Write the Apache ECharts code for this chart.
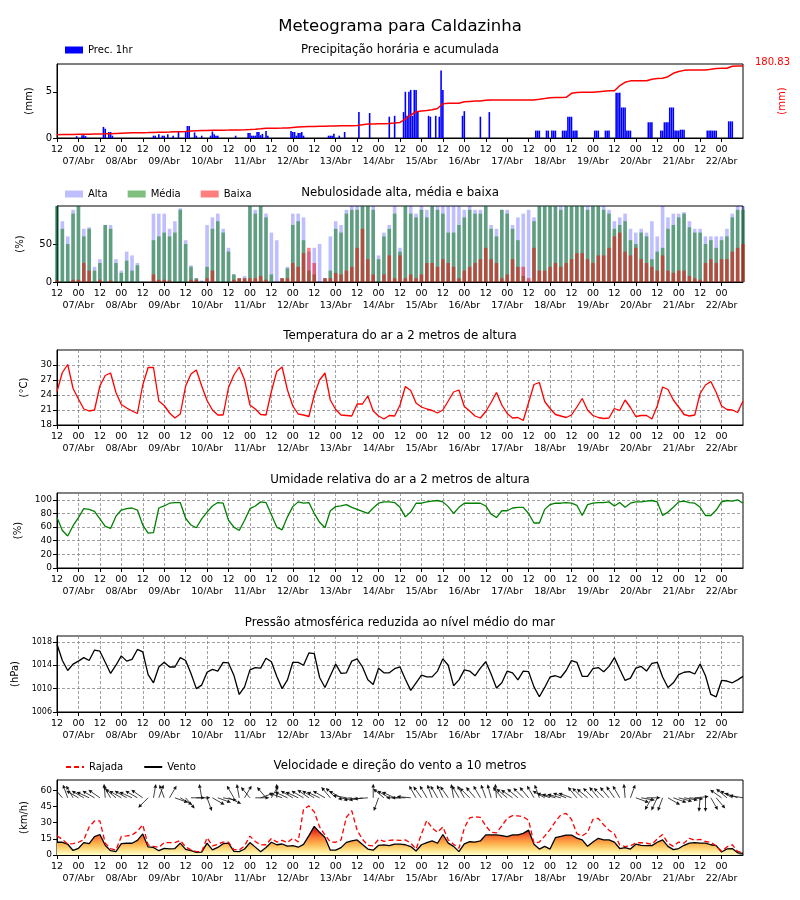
<!DOCTYPE html>
<html>
<head>
<meta charset="utf-8">
<script src="https://cdn.jsdelivr.net/npm/echarts@6/dist/echarts.min.js"></script>
<style>html,body{margin:0;padding:0;background:#fff}#c{width:800px;height:900px}</style>
</head>
<body>
<div id="c"></div>
<script>
// ---------------- DATA ----------------
// hour 0 = 06/Abr 12:00 ; series sampled every 3 hours (h = 0..384)
const STEP = 3;
const START_DAY = 6;
const MONTH = 'Abr';

const temp = [24.7,28.5,30.1,25.3,23.2,21.2,20.8,21.0,
  25.8,27.9,28.4,24.5,22.1,21.4,20.8,20.3,
  26.0,29.5,29.5,22.8,21.9,20.4,19.4,20.2,
  25.8,28.2,29.0,25.8,22.9,21.0,20.0,20.0,
  25.5,28.0,29.6,27.0,22.0,21.2,20.1,20.0,
  24.7,28.7,29.6,25.0,21.8,20.2,20.0,19.7,
  24.0,27.0,28.4,23.0,21.1,20.0,19.9,19.8,
  22.2,22.2,23.8,20.8,19.8,19.2,19.9,19.8,
  22.0,
  25.7,24.9,22.4,21.6,21.2,20.9,20.4,
  21.0,22.8,24.6,25.0,21.7,20.8,19.8,19.4,
  20.7,22.5,24.5,22.0,20.3,19.4,19.5,18.9,
  22.5,26.1,26.5,22.7,21.3,20.1,19.8,19.5,
  20.0,21.6,23.3,21.0,19.9,19.5,19.3,19.4,
  21.3,20.9,23.0,21.5,19.7,19.9,19.9,19.2,
  21.8,25.6,25.1,23.0,21.6,20.1,19.8,20.0,
  24.3,26.0,26.7,24.5,21.8,21.1,21.0,20.5,
  22.8];

const humidity = [74,55,47,62,74,87,86,83,
  72,61,58,76,85,87,88,85,
  63,51,52,88,91,95,96,96,
  73,63,59,72,82,91,96,95,
  70,60,55,70,87,91,97,96,
  78,60,56,75,90,97,95,96,
  80,67,59,84,90,91,93,89,
  86,83,80,88,95,97,97,96,
  89,
  75,82,95,95,97,98,99,
  97,90,80,89,95,95,95,95,
  91,79,74,84,84,88,89,89,
  80,66,66,86,93,95,95,96,
  95,92,77,93,95,96,96,97,
  91,96,89,95,97,97,98,99,
  97,77,82,89,97,98,96,95,
  89,77,77,85,97,99,98,100,
  95];

const pressure = [1017.6,1014.8,1013.1,1014.2,1014.7,1015.3,1014.8,1016.6,
  1016.4,1014.5,1012.6,1014.0,1015.6,1014.7,1015.0,1016.7,
  1016.3,1012.4,1011.0,1013.7,1014.5,1013.7,1013.7,1015.3,
  1014.8,1012.6,1010.0,1010.6,1012.8,1013.3,1013.0,1014.5,
  1014.4,1012.3,1009.0,1010.3,1013.2,1013.6,1013.5,1015.2,
  1014.6,1012.1,1010.0,1011.5,1014.5,1014.5,1014.0,1016.1,
  1016.0,1011.9,1010.2,1012.2,1014.2,1012.6,1012.7,1014.7,
  1015.1,1013.7,1011.5,1010.7,1013.5,1012.7,1012.7,1013.4,
  1013.7,
  1011.6,1009.7,1011.0,1012.3,1012.0,1012.0,1013.0,
  1015.1,1014.0,1010.5,1011.5,1013.2,1013.0,1012.2,1013.5,
  1014.6,1012.5,1010.1,1011.0,1013.0,1012.7,1011.5,1013.0,
  1012.9,1010.3,1008.6,1010.2,1012.0,1012.2,1011.9,1013.1,
  1014.8,1014.5,1012.1,1012.1,1013.4,1013.6,1012.9,1013.8,
  1015.3,1013.3,1011.4,1011.8,1013.5,1013.8,1013.0,1014.3,
  1014.5,1012.0,1010.2,1011.0,1012.4,1012.8,1012.9,1012.5,
  1014.2,1012.2,1009.0,1008.6,1011.4,1011.3,1011.0,1011.5,
  1012.1];

const wind = [11.8,11.8,10,4.2,6.2,11.5,10.5,17,
  19,9,4,3.1,10.5,10.9,10.9,13.5,
  19.5,7.5,7,4,6.2,5.6,6,11,
  5.2,4,2.4,2.6,11,4.8,7,10.5,
  11,3.3,3.1,5.6,11.5,7.3,3.1,7,
  11.8,9.5,10.2,8.2,8.7,7.2,9.8,18,
  26.5,21,16.3,4.5,4.6,6.8,11.7,13,
  14,9.8,5.5,4.5,9,9.3,8.7,10,
  10,
  9.5,7.8,3.7,9.5,11.5,13,10.9,
  19,11,8,3.1,10.3,12.3,12,13,
  18.6,18.6,18.6,18,17,18.6,18.6,20,
  23,10,5.5,8,5.5,16,17.2,18.5,
  18.5,15.6,14,8,12,15.5,14,14,
  12,6,6.8,5.5,10,9,8.7,8.7,
  11.8,14,8,5,6,9,11,11.5,
  11,11,9.5,8.7,2.8,5.6,6,2.1,
  1.6];

const gust = [17.7,14.5,10,10.5,11.8,14,26,31.5,
  31.7,11,6,4.5,17.2,17.7,18.4,22,
  28,9.3,8,7,11.5,11.5,11.5,13.5,
  7.5,4.8,3.1,3.1,16,8.5,9.9,12,
  12,5,4.7,8.5,17.5,12.5,9.4,9.5,
  15.3,12,13.5,11.5,15.5,12.2,42.5,45.5,
  40,26,18.6,12,11.8,14,35,41,
  23,14.5,9,8.5,14.5,12.6,13.5,14,
  13.5,
  14,10.9,5.5,19.5,32,25,21,
  26,14,10,6.2,25,34.5,35.5,34.8,
  27,21,20.5,27,34,36.5,36.2,35.5,
  32,10.9,12,17.5,23.5,31,37.2,38.5,
  33,19.8,17.7,21,33,34,28,23,
  19.5,9.3,7.8,8.5,11.2,11.5,10.9,10,
  14.9,19,11,8,12,11,15.5,13.8,
  14.5,12.5,11.8,8.5,3.5,7.5,9.5,3.3,
  2.2];

// wind direction (meteorological degrees, "from")
const windDir = [140,140,160,150,120,120,115,120,
  125,175,150,130,120,120,115,120,
  125,45,190,200,160,210,290,300,
  320,270,270,170,340,300,290,280,
  295,150,170,210,140,270,250,140,
  210,180,110,115,120,115,120,125,
  120,115,120,140,135,120,100,85,
  80,80,85,180,20,130,120,115,
  90,
  90,95,150,145,150,160,150,
  155,145,170,150,150,135,140,150,
  160,165,175,140,130,125,130,135,
  140,150,160,120,110,105,105,110,
  110,140,135,130,135,140,135,140,
  145,150,175,200,290,280,270,30,
  25,20,300,290,285,280,275,265,
  5,0,330,320,125,130,120,110,
  100];

const cloudHigh = [100,80,60,95,100,70,72,20,
  30,75,75,30,15,40,35,25,
  0,0,90,90,90,70,80,97,
  55,22,5,2,75,85,90,70,
  45,10,5,8,100,95,100,90,
  65,55,5,20,90,90,85,40,
  45,50,5,60,80,75,95,100,
  100,100,100,100,35,65,75,100,
  45,
  100,100,90,100,95,100,100,
  100,100,100,100,95,100,95,95,
  100,75,70,95,95,75,85,90,
  95,85,100,100,100,100,100,100,
  100,100,100,100,100,100,100,95,
  80,85,90,70,65,70,65,80,
  60,100,85,90,90,92,80,70,
  70,60,60,60,60,70,90,100,
  100];

const cloudMid = [100,70,50,90,100,60,70,15,
  25,75,70,25,12,28,15,22,
  0,0,55,60,65,60,65,95,
  50,20,5,1,20,70,80,65,
  40,10,5,5,100,90,100,85,
  10,0,5,18,75,80,55,15,
  10,0,5,15,70,65,90,95,
  95,100,100,95,30,60,70,90,
  40,
  100,90,85,95,85,100,95,
  90,65,65,75,85,95,90,90,
  100,70,60,95,90,70,55,8,
  0,80,100,100,100,100,95,100,
  100,100,100,95,100,100,95,90,
  70,75,80,55,50,65,60,30,
  40,45,70,75,85,90,72,65,
  65,50,55,45,55,60,85,95,
  95];

const cloudLow = [2,0,0,3,3,25,15,0,
  3,0,2,0,0,0,0,0,
  0,0,10,3,3,2,0,0,
  0,3,3,0,5,15,0,0,
  0,3,5,5,5,5,8,3,
  0,0,5,5,25,20,38,45,
  25,0,5,5,12,10,15,20,
  45,70,30,10,0,10,35,5,
  35,
  5,10,5,10,25,25,20,
  30,25,20,5,15,20,25,30,
  45,30,25,5,10,30,20,20,
  5,45,15,15,20,25,20,25,
  30,38,38,30,25,35,35,45,
  60,65,40,35,45,30,25,20,
  15,35,15,12,15,15,8,5,
  3,25,30,25,30,30,40,45,
  50];

// hourly precipitation [hour, mm] (hours without rain omitted)
const precipHourly = [[11,0.2],[14,0.3],[15,0.3],[16,0.2],[26,1.2],[27,1.0],[29,0.65],[30,0.65],[31,0.25],
  [54,0.25],[55,0.25],[57,0.4],[59,0.25],[60,0.25],[62,0.4],[65,0.25],[68,0.7],[72,0.7],[73,1.3],[74,1.3],
  [77,0.6],[78,0.25],[81,0.25],[86,0.25],[87,0.7],[88,0.4],[89,0.25],[90,0.25],[100,0.25],
  [107,0.55],[108,0.55],[109,0.25],[110,0.25],[111,0.25],[112,0.65],[113,0.65],[114,0.3],[115,0.45],
  [117,0.75],[118,0.25],[131,0.75],[132,0.65],[133,0.65],[134,0.25],[135,0.55],[136,0.55],[137,0.65],
  [138,0.25],[152,0.25],[153,0.25],[154,0.25],[155,0.45],[158,0.25],[161,0.65],[169,2.8],[175,2.7],
  [186,2.3],[189,2.4],
  [194,2.8],[195,5.0],[196,2.4],[197,5.0],[198,5.2],[199,2.4],[200,5.2],[201,5.2],[202,2.8],
  [208,2.4],[209,2.3],[212,2.4],[214,2.3],[215,7.3],[216,5.2],[227,2.4],[228,2.9],[237,2.3],[242,2.8],
  [268,0.8],[269,0.8],[270,0.8],[274,0.8],[275,0.8],[277,0.8],[278,0.8],[279,0.8],
  [283,0.8],[284,0.8],[285,0.8],[286,2.3],[287,2.3],[288,2.3],[289,0.8],[290,0.8],[291,0.8],
  [301,0.8],[302,0.8],[303,0.8],[307,0.8],[308,0.8],[309,0.8],
  [313,4.9],[314,4.9],[315,4.9],[316,3.3],[317,3.3],[318,3.3],[319,0.8],[320,0.8],[321,0.8],
  [331,1.7],[332,1.7],[333,1.7],[338,0.8],[339,0.8],[340,1.7],[341,1.7],[342,1.7],
  [343,3.3],[344,3.3],[345,3.3],[346,0.8],[347,0.8],[348,0.8],[349,0.9],[350,0.9],[351,0.9],
  [364,0.8],[365,0.8],[366,0.8],[367,0.8],[368,0.8],[369,0.8],[376,1.8],[377,1.8],[378,1.8]];

// accumulated precipitation (mm), every 3 hours
const precipAccum = [8.3,8.5,8.7,9.0,9.2,9.4,9.6,9.9,
  10.1,10.4,10.9,11.5,12.0,12.5,12.9,13.2,
  13.4,13.6,13.9,14.3,14.7,15.0,15.4,15.8,
  16.5,17.4,18.0,18.6,19.1,19.4,19.5,19.6,
  19.8,20.1,20.4,20.8,21.5,22.3,23.3,24.4,
  24.6,24.8,24.9,25.1,26.5,27.6,28.4,28.8,
  29.2,29.5,29.8,30.1,30.4,30.6,30.8,30.9,
  31.5,33.5,35.0,35.4,35.6,35.8,36.5,37.5,
  39.0,
  47.5,57.8,66.0,67.9,69.0,71.0,74.0,
  86.0,87.2,87.2,87.2,91.2,92.0,92.8,93.3,
  94.8,95.5,95.5,95.5,95.5,95.5,95.5,95.5,
  95.5,95.8,97.3,99.0,101.0,101.6,102.0,102.3,
  112.4,114.5,114.9,114.9,114.9,116.4,117.8,118.9,
  118.9,131.5,140.0,143.6,144.0,144.0,144.0,147.8,
  149.5,150.3,154.0,162.6,167.0,170.0,171.0,171.0,
  171.0,171.0,172.7,174.6,175.2,175.2,180.5,180.83,
  180.83];

// ---------------- CHART ----------------
const FONT = 'DejaVu Sans';
const pair = arr => arr.map((v, i) => [i * STEP, v]);
const HMAX = (temp.length - 1) * STEP;

function hourLabel(v) { return v % 24 === 0 ? '12' : '00'; }
function dateLabel(v) {
  if (v % 24 === 0) return '';
  const d = START_DAY + (v + 12) / 24;
  return String(d).padStart(2, '0') + '/' + MONTH;
}

const GRID_LEFT = 57, GRID_W = 686;
const gridBoxes = [[64, 74], [206, 76], [350, 75], [493, 75], [636, 76], [780, 75]];
const dashedGrid = [false, false, true, true, true, false];

const grids = gridBoxes.map(([t, h]) => ({
  left: GRID_LEFT, top: t, width: GRID_W, height: h,
  show: true, borderColor: '#000', borderWidth: 1, backgroundColor: 'transparent',
  outerBoundsMode: 'none', containLabel: false
}));

const xAxes = [];
gridBoxes.forEach((g, i) => {
  xAxes.push({
    type: 'value', gridIndex: i, min: 0, max: HMAX, interval: 12,
    axisLine: { show: true, lineStyle: { color: '#000', width: 1 } },
    axisTick: { show: true, length: 4, lineStyle: { color: '#000' } },
    axisLabel: { formatter: hourLabel, fontSize: 9.5, color: '#000', lineHeight: 12, margin: 6,
                 showMaxLabel: false, showMinLabel: true, hideOverlap: false, fontFamily: FONT },
    splitLine: { show: dashedGrid[i], lineStyle: { type: [3, 2], color: '#888', width: 0.8 } }
  });
});
// second label row (dates) on companion axes
gridBoxes.forEach((g, i) => {
  xAxes.push({
    type: 'value', gridIndex: i, min: 0, max: HMAX, interval: 12, position: 'bottom', offset: 0,
    axisLine: { show: false }, axisTick: { show: false }, splitLine: { show: false },
    axisLabel: { formatter: dateLabel, fontSize: 9.5, color: '#000', lineHeight: 12, margin: 18,
                 showMaxLabel: false, showMinLabel: false, hideOverlap: false, fontFamily: FONT }
  });
});

function yAx(gi, min, max, interval, name, gap, fs) {
  return {
    type: 'value', gridIndex: gi, min, max, interval,
    name, nameLocation: 'middle', nameGap: gap, nameRotate: 90,
    nameTextStyle: { fontSize: 10, color: '#000', fontFamily: FONT },
    axisLine: { show: true, lineStyle: { color: '#000' } },
    axisTick: { show: true, length: 4, lineStyle: { color: '#000' } },
    axisLabel: { fontSize: fs, color: '#000', showMaxLabel: false, margin: 5, fontFamily: FONT,
                 hideOverlap: false, formatter: v => String(v) },
    splitLine: { show: dashedGrid[gi], lineStyle: { type: [3, 2], color: '#888', width: 0.8 } }
  };
}

const ACC_MAX = 186;
const yAxes = [
  yAx(0, 0, 8, 5, '(mm)', 20, 10),
  { type: 'value', gridIndex: 0, position: 'right', min: 0, max: ACC_MAX,
    name: '(mm)', nameLocation: 'middle', nameGap: 34, nameRotate: 90,
    nameTextStyle: { fontSize: 10, color: '#ff0000', fontFamily: FONT },
    axisLine: { show: false }, axisTick: { show: false }, axisLabel: { show: false }, splitLine: { show: false } },
  yAx(1, 0, 100, 50, '(%)', 32, 10),
  yAx(2, 18, 33, 3, '(°C)', 27, 9),
  yAx(3, 0, 110, 20, '(%)', 34, 9),
  yAx(4, 1006, 1019, 4, '(hPa)', 37, 8),
  yAx(5, 0, 69.5, 15, '(km/h)', 27, 9)
];

// wind fill coloured by value (yellow -> red), global gradient in pixel space
const WG = gridBoxes[5];
const WIND_COLOR_TOP = 27;
const yTopPix = WG[0] + WG[1] * (1 - WIND_COLOR_TOP / 69.5);
const yBotPix = WG[0] + WG[1];
const windGrad = new echarts.graphic.LinearGradient(0, yTopPix, 0, yBotPix, [
  { offset: 0, color: '#c4122a' },
  { offset: 0.2, color: '#e8381f' },
  { offset: 0.4, color: '#fb7a36' },
  { offset: 0.6, color: '#fdb04c' },
  { offset: 0.8, color: '#fedc80' },
  { offset: 1, color: '#ffffcc' }
], true);

const ARROW_BASE = 53;
function renderArrow(params, api) {
  const h = api.value(0), d = api.value(1);
  const p = api.coord([h, ARROW_BASE]);
  const a = (d + 180) * Math.PI / 180;
  const L = 14, hl = 3.8, hw = 1.8;
  const ux = Math.sin(a), uy = -Math.cos(a);
  const tx = p[0] + ux * L, ty = p[1] + uy * L;
  const bx = tx - ux * hl, by = ty - uy * hl;
  return { type: 'group', children: [
    { type: 'line', shape: { x1: p[0], y1: p[1], x2: bx, y2: by }, style: { stroke: '#111', lineWidth: 0.8 } },
    { type: 'polygon', shape: { points: [[tx, ty], [bx - uy * hw, by + ux * hw], [bx + uy * hw, by - ux * hw]] },
      style: { fill: '#111' } }
  ] };
}

const titleBase = { left: 'center', padding: 0, textStyle: { fontSize: 11.8, fontWeight: 'normal', color: '#000', fontFamily: FONT } };
const subTitles = [
  ['Precipitação horária e acumulada', 44],
  ['Nebulosidade alta, média e baixa', 187],
  ['Temperatura do ar a 2 metros de altura', 330],
  ['Umidade relativa do ar a 2 metros de altura', 474],
  ['Pressão atmosférica reduzida ao nível médio do mar', 617],
  ['Velocidade e direção do vento a 10 metros', 760]
];

const legendBase = { orient: 'horizontal', padding: 0, itemWidth: 18, itemHeight: 7, itemGap: 20,
  textStyle: { fontSize: 10, color: '#000', fontFamily: FONT } };

const option = {
  animation: false,
  backgroundColor: '#fff',
  textStyle: { fontFamily: FONT },
  title: [{ text: 'Meteograma para Caldazinha', left: 'center', top: 18, padding: 0,
            textStyle: { fontSize: 16.5, fontWeight: 'normal', color: '#000', fontFamily: FONT } }]
    .concat(subTitles.map(([t, top]) => Object.assign({}, titleBase, { text: t, top }))),
  legend: [
    Object.assign({}, legendBase, { left: 65, top: 45, data: [{ name: 'Prec. 1hr', icon: 'rect' }] }),
    Object.assign({}, legendBase, { left: 65, top: 189, data: [{ name: 'Alta', icon: 'rect' }, { name: 'Média', icon: 'rect' }, { name: 'Baixa', icon: 'rect' }] }),
    Object.assign({}, legendBase, { left: 65, top: 762, itemHeight: 10, itemStyle: { opacity: 0 },
      data: ['Rajada', 'Vento'] })
  ],
  grid: grids,
  xAxis: xAxes,
  yAxis: yAxes,
  graphic: [{ type: 'text', left: 755, top: 57,
    style: { text: precipAccum[precipAccum.length - 1].toFixed(2), fill: '#ff0000', font: '10px "DejaVu Sans"' } }],
  series: [
    { type: 'bar', name: 'Prec. 1hr', xAxisIndex: 0, yAxisIndex: 0, data: precipHourly, barWidth: 1.6,
      itemStyle: { color: '#0000ff' } },
    { type: 'line', name: 'Acumulada', xAxisIndex: 0, yAxisIndex: 1, data: pair(precipAccum), symbol: 'none',
      lineStyle: { color: '#ff0000', width: 1.5 } },
    { type: 'bar', name: 'Alta', xAxisIndex: 1, yAxisIndex: 2, data: pair(cloudHigh), barWidth: 3.6, barGap: '-100%',
      itemStyle: { color: 'rgba(0,0,255,0.25)' } },
    { type: 'bar', name: 'Média', xAxisIndex: 1, yAxisIndex: 2, data: pair(cloudMid), barWidth: 3.6, barGap: '-100%',
      itemStyle: { color: 'rgba(0,128,0,0.5)' } },
    { type: 'bar', name: 'Baixa', xAxisIndex: 1, yAxisIndex: 2, data: pair(cloudLow), barWidth: 3.6, barGap: '-100%',
      itemStyle: { color: 'rgba(255,0,0,0.5)' } },
    { type: 'line', name: 'Temperatura', xAxisIndex: 2, yAxisIndex: 3, data: pair(temp), symbol: 'none',
      lineStyle: { color: '#ff0000', width: 1.3 } },
    { type: 'line', name: 'Umidade', xAxisIndex: 3, yAxisIndex: 4, data: pair(humidity), symbol: 'none',
      lineStyle: { color: '#008000', width: 1.3 } },
    { type: 'line', name: 'Pressão', xAxisIndex: 4, yAxisIndex: 5, data: pair(pressure), symbol: 'none',
      lineStyle: { color: '#000', width: 1.3 } },
    { type: 'line', name: 'Vento', xAxisIndex: 5, yAxisIndex: 6, data: pair(wind), symbol: 'none',
      lineStyle: { color: '#000', width: 1.3 }, itemStyle: { color: '#000' },
      areaStyle: { color: windGrad, opacity: 1 } },
    { type: 'line', name: 'Rajada', xAxisIndex: 5, yAxisIndex: 6, data: pair(gust), symbol: 'none',
      lineStyle: { color: '#ff0000', width: 1.3, type: [5, 3] }, itemStyle: { color: '#ff0000' } },
    { type: 'custom', name: 'Direção', xAxisIndex: 5, yAxisIndex: 6, data: windDir.map((d, i) => [i * STEP, d]),
      renderItem: renderArrow, clip: true }
  ]
};

const chart = echarts.init(document.getElementById('c'), null, { renderer: 'canvas' });
chart.setOption(option);
</script>
</body>
</html>
